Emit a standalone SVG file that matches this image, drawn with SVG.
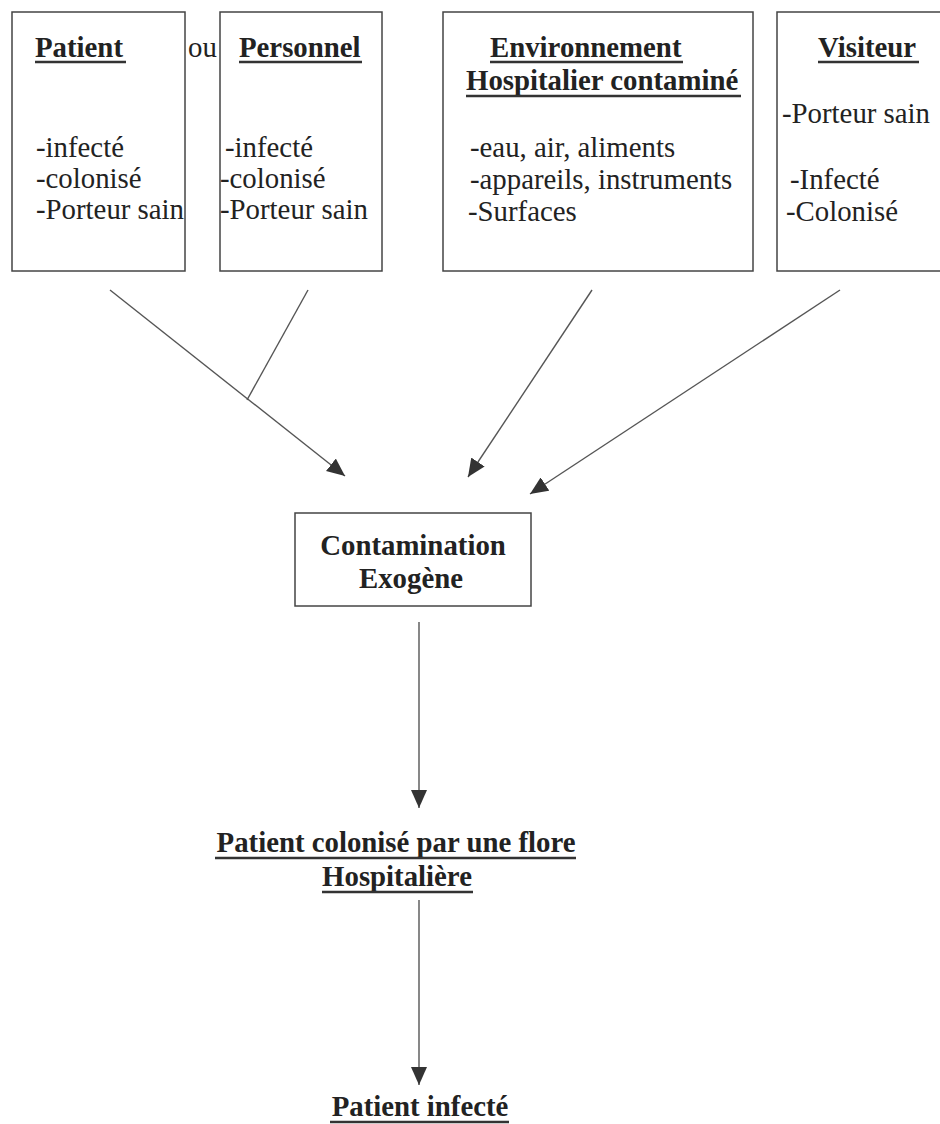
<svg xmlns="http://www.w3.org/2000/svg" width="940" height="1124" viewBox="0 0 940 1124">
<defs>
<style>
.box{fill:#fff;stroke:#444;stroke-width:1.5}
.t{font-family:'Liberation Serif','Times New Roman','DejaVu Serif',serif;font-size:28.8px;fill:#222}
.b{font-weight:bold}
.ul{stroke:#333;stroke-width:2.5}
.con{stroke:#555;stroke-width:1.4;fill:none}
</style>
<marker id="ah" markerUnits="userSpaceOnUse" markerWidth="20" markerHeight="16" refX="18" refY="8" orient="auto">
<path d="M0,0 L18,8 L0,16 Z" fill="#333"/>
</marker>
</defs>
<rect width="940" height="1124" fill="#fff"/>
<g id="patient">
<rect class="box" x="12" y="12" width="173" height="259"/>
<text class="t b" x="35" y="57">Patient</text>
<line class="ul" x1="35" y1="62" x2="126" y2="62"/>
<text class="t" x="36" y="157">-infecté</text>
<text class="t" x="36" y="188">-colonisé</text>
<text class="t" x="36" y="219">-Porteur sain</text>
</g>
<g id="ou">
<text class="t" x="188" y="57">ou</text>
</g>
<g id="personnel">
<rect class="box" x="220" y="12" width="162" height="259"/>
<text class="t b" x="239" y="57">Personnel</text>
<line class="ul" x1="239" y1="62" x2="362" y2="62"/>
<text class="t" x="225" y="157">-infecté</text>
<text class="t" x="220" y="188">-colonisé</text>
<text class="t" x="220" y="219">-Porteur sain</text>
</g>
<g id="environnement">
<rect class="box" x="443" y="12" width="310" height="259"/>
<text class="t b" x="490" y="57">Environnement</text>
<line class="ul" x1="490" y1="62" x2="683" y2="62"/>
<text class="t b" x="466" y="90">Hospitalier contaminé</text>
<line class="ul" x1="466" y1="96" x2="741" y2="96"/>
<text class="t" x="470" y="157">-eau, air, aliments</text>
<text class="t" x="470" y="189">-appareils, instruments</text>
<text class="t" x="468" y="221">-Surfaces</text>
</g>
<g id="visiteur">
<rect class="box" x="777" y="12" width="200" height="259"/>
<text class="t b" x="818" y="57">Visiteur</text>
<line class="ul" x1="818" y1="62" x2="919" y2="62"/>
<text class="t" x="782" y="123">-Porteur sain</text>
<text class="t" x="790" y="189">-Infecté</text>
<text class="t" x="786" y="221">-Colonisé</text>
</g>
<g id="contamination">
<rect class="box" x="295" y="513" width="236" height="93"/>
<text class="t b" x="413" y="555" text-anchor="middle">Contamination</text>
<text class="t b" x="411" y="588" text-anchor="middle">Exogène</text>
</g>
<g id="colonise">
<text class="t b" x="396" y="852" text-anchor="middle">Patient colonisé par une flore</text>
<line class="ul" x1="215" y1="858" x2="576" y2="858"/>
<text class="t b" x="397" y="886" text-anchor="middle">Hospitalière</text>
<line class="ul" x1="322" y1="892" x2="473" y2="892"/>
</g>
<g id="infecte">
<text class="t b" x="420" y="1116" text-anchor="middle">Patient infecté</text>
<line class="ul" x1="330" y1="1122" x2="509" y2="1122"/>
</g>
<g id="connectors">
<line class="con" x1="110" y1="290" x2="345" y2="476" marker-end="url(#ah)"/>
<line class="con" x1="308" y1="290" x2="247" y2="400"/>
<line class="con" x1="592" y1="290" x2="468" y2="477" marker-end="url(#ah)"/>
<line class="con" x1="840" y1="290" x2="530" y2="494" marker-end="url(#ah)"/>
<line class="con" x1="419" y1="622" x2="419" y2="808" marker-end="url(#ah)"/>
<line class="con" x1="419" y1="900" x2="419" y2="1085" marker-end="url(#ah)"/>
</g>
</svg>
